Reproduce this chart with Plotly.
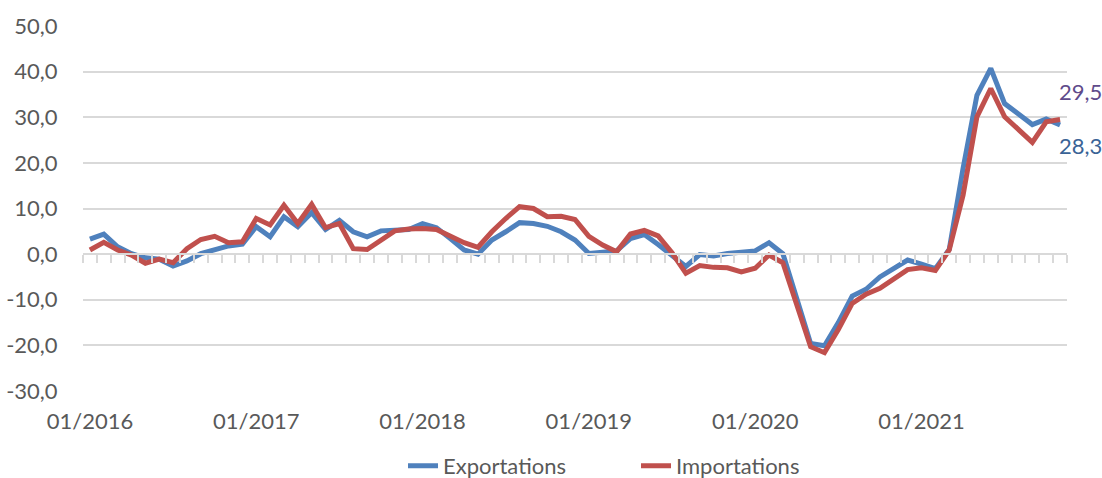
import plotly.graph_objects as go

# ---- data ----
months = [f"{m:02d}/{y}" for y in range(2016, 2022) for m in range(1, 13)][:71]

exportations = [3.3, 4.4, 1.6, 0.1, -0.8, -1.1, -2.6, -1.5, 0.1, 1.0, 1.8, 2.2,
                6.0, 3.8, 8.2, 6.0, 9.1, 5.4, 7.4, 4.9, 3.8, 5.1, 5.3, 5.4,
                6.7, 5.8, 3.4, 0.9, 0.0, 3.1, 4.9, 6.9, 6.7, 6.1, 4.9, 3.1,
                0.15, 0.4, 0.7, 3.4, 4.3, 2.1, -0.2, -2.7, -0.1, -0.4, 0.15, 0.4,
                0.7, 2.5, 0.1, -9.7, -19.6, -20.1, -15.0, -9.2, -7.7, -5.0, -3.1, -1.3,
                -2.2, -3.2, 1.0, 18.8, 34.8, 40.7, 33.0, 30.6, 28.4, 29.6, 28.3]

importations = [0.9, 2.6, 0.9, -0.2, -2.0, -1.1, -1.9, 1.2, 3.2, 3.9, 2.5, 2.7,
                7.8, 6.4, 10.7, 6.7, 10.9, 5.8, 6.7, 1.2, 1.0, 3.1, 5.1, 5.5,
                5.6, 5.4, 3.8, 2.5, 1.5, 4.9, 7.8, 10.4, 10.0, 8.2, 8.3, 7.6,
                3.9, 2.0, 0.5, 4.4, 5.2, 4.0, 0.3, -4.2, -2.5, -2.9, -3.0, -3.9,
                -3.1, -0.2, -1.9, -11.5, -20.3, -21.6, -16.5, -10.8, -8.8, -7.5, -5.5, -3.4,
                -3.0, -3.6, 0.9, 12.9, 30.1, 36.3, 30.1, 27.4, 24.5, 29.0, 29.5]

x_tick_labels = ["01/2016", "01/2017", "01/2018", "01/2019", "01/2020", "01/2021"]
y_tick_values = [50, 40, 30, 20, 10, 0, -10, -20, -30]
y_tick_labels = ["50,0", "40,0", "30,0", "20,0", "10,0", "0,0", "-10,0", "-20,0", "-30,0"]

BLUE = "#4F81BD"
RED = "#C0504D"
GRID = "#D9D9D9"
TEXT = "#595959"
FONT = "Lato, Carlito, Calibri, sans-serif"
FS = 22

fig = go.Figure()
fig.add_trace(go.Scatter(x=months, y=exportations, name="Exportations", mode="lines",
                         line=dict(color=BLUE, width=5)))
fig.add_trace(go.Scatter(x=months, y=importations, name="Importations", mode="lines",
                         line=dict(color=RED, width=5)))

n = len(months)
fig.update_layout(
    width=1102, height=478,
    margin=dict(l=83, r=35, t=26, b=87, autoexpand=False),
    paper_bgcolor="white", plot_bgcolor="white",
    font=dict(family=FONT, size=FS, color=TEXT),
    showlegend=True,
    legend=dict(orientation="h", x=0.562, xanchor="center", y=-0.205, yanchor="middle",
                font=dict(family=FONT, size=FS, color=TEXT),
                entrywidth=188, entrywidthmode="pixels",
                bgcolor="rgba(0,0,0,0)"),
    xaxis=dict(type="category", categoryorder="array", categoryarray=months,
               range=[-0.5, n - 0.5], tickmode="array", tickvals=x_tick_labels,
               ticktext=x_tick_labels, showgrid=False, zeroline=False, showline=False,
               ticks="outside", ticklen=11, tickcolor="rgba(0,0,0,0)", automargin=False,
               tickfont=dict(family=FONT, size=FS, color=TEXT)),
    xaxis2=dict(overlaying="x", anchor="free", position=30 / 80, type="linear",
                range=[-0.5, n - 0.5], tick0=-0.5, dtick=1, ticks="outside", ticklen=8,
                tickwidth=2, tickcolor=GRID, showticklabels=False, showgrid=False,
                zeroline=False, showline=True, linecolor=GRID, linewidth=2,
                automargin=False),
    yaxis=dict(range=[-30, 50], tickmode="array", tickvals=y_tick_values,
               ticktext=y_tick_labels, showgrid=True, gridcolor=GRID, gridwidth=2,
               zeroline=False, showline=False, ticks="outside", ticklen=20,
               tickcolor="rgba(0,0,0,0)", automargin=False,
               tickfont=dict(family=FONT, size=FS, color=TEXT)),
)

# invisible helper trace to activate xaxis2
fig.add_trace(go.Scatter(x=[0], y=[None], xaxis="x2", showlegend=False, hoverinfo="skip",
                         mode="lines"))

fig.add_annotation(x=months[-1], y=importations[-1], xref="x", yref="y",
                   text=f"{importations[-1]:.1f}".replace(".", ","), showarrow=False,
                   xanchor="left", yanchor="middle", xshift=-3, yshift=28,
                   font=dict(family=FONT, size=FS, color="#5F4B8B"))
fig.add_annotation(x=months[-1], y=exportations[-1], xref="x", yref="y",
                   text=f"{exportations[-1]:.1f}".replace(".", ","), showarrow=False,
                   xanchor="left", yanchor="middle", xshift=-3, yshift=-20,
                   font=dict(family=FONT, size=FS, color="#3A6396"))

fig.write_html("out.html", config={"displayModeBar": False},
               post_script="document.body.style.margin='0';document.body.style.overflow='hidden';")
